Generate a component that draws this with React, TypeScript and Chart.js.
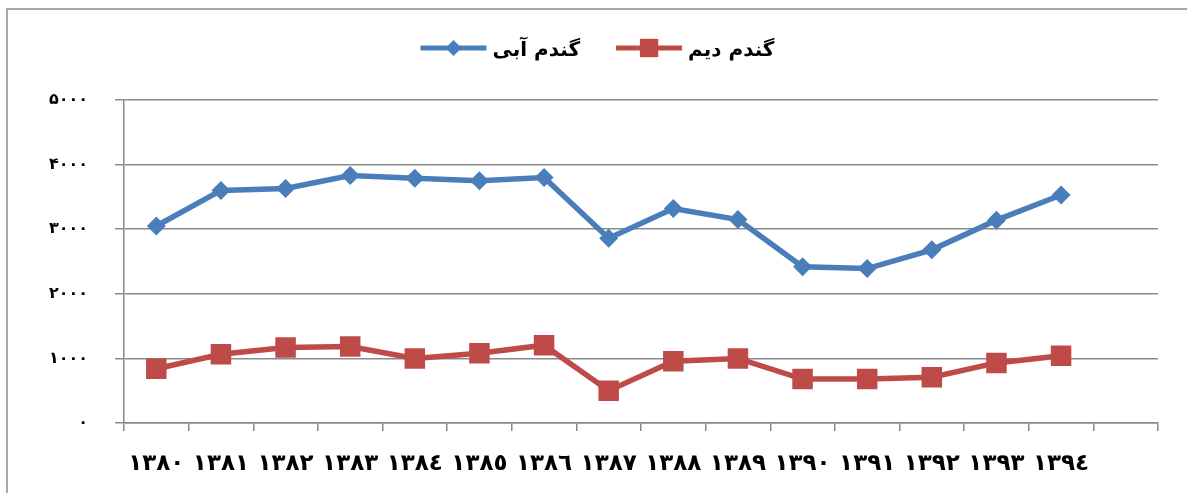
import React, { useEffect, useRef } from 'react';
import { Chart, registerables } from 'chart.js';

Chart.register(...registerables);

const categories = ['١٣٨٠', '١٣٨١', '١٣٨٢', '١٣٨٣', '١٣٨٤', '١٣٨٥', '١٣٨٦', '١٣٨٧', '١٣٨٨', '١٣٨٩', '١٣٩٠', '١٣٩١', '١٣٩٢', '١٣٩٣', '١٣٩٤', ''];
const yTickLabels = ['۰', '۱۰۰۰', '۲۰۰۰', '۳۰۰۰', '۴۰۰۰', '۵۰۰۰'];
const irrigatedLabel = 'گندم آبی';
const rainfedLabel = 'گندم دیم';
const irrigated = [3050, 3600, 3630, 3830, 3790, 3750, 3800, 2860, 3320, 3150, 2420, 2390, 2680, 3140, 3530, null];
const rainfed = [840, 1065, 1170, 1185, 1000, 1080, 1205, 500, 955, 1000, 680, 680, 710, 930, 1040, null];

const BLUE = '#4a7ebb';
const RED = '#be4b48';
const GRID = '#8a8a8a';
const FONT = '"DejaVu Sans", sans-serif';

const legendPlugin = {
  id: 'lineLegend',
  afterDraw(chart: any) {
    const ctx = chart.ctx as CanvasRenderingContext2D;
    ctx.save();
    ctx.font = `bold 20px ${FONT}`;
    const y = 48;
    const lineLen = 66;
    const gap = 6;
    const itemGap = 36;
    const items = chart.data.datasets.map((ds: any) => ({
      label: ds.label as string,
      color: ds.borderColor as string,
      style: ds.pointStyle as string,
      r: ds.pointRadius as number,
    }));
    const widths = items.map((it: any) => lineLen + gap + ctx.measureText(it.label).width);
    const total = widths.reduce((a: number, b: number) => a + b, 0) + itemGap * (items.length - 1);
    let x = chart.width / 2 + 4 - total / 2;
    items.forEach((it: any, i: number) => {
      ctx.strokeStyle = it.color;
      ctx.lineWidth = 5;
      ctx.beginPath();
      ctx.moveTo(x, y);
      ctx.lineTo(x + lineLen, y);
      ctx.stroke();
      const cx = x + lineLen / 2;
      ctx.fillStyle = it.color;
      ctx.beginPath();
      if (it.style === 'rectRot') {
        const r = it.r - 1.5;
        ctx.moveTo(cx, y - r);
        ctx.lineTo(cx + r, y);
        ctx.lineTo(cx, y + r);
        ctx.lineTo(cx - r, y);
        ctx.closePath();
      } else {
        const s = (it.r - 1.5) * Math.SQRT1_2;
        ctx.rect(cx - s, y - s, 2 * s, 2 * s);
      }
      ctx.fill();
      ctx.fillStyle = '#000';
      ctx.textAlign = 'left';
      ctx.textBaseline = 'middle';
      ctx.fillText(it.label, x + lineLen + gap, y + 3);
      x += widths[i] + itemGap;
    });
    ctx.restore();
  },
};

export default function App() {
  const ref = useRef<HTMLCanvasElement | null>(null);

  useEffect(() => {
    if (!ref.current) return;
    const chart = new Chart(ref.current, {
      type: 'line',
      data: {
        labels: categories,
        datasets: [
          {
            label: irrigatedLabel,
            data: irrigated,
            borderColor: BLUE,
            backgroundColor: BLUE,
            borderWidth: 5.5,
            pointStyle: 'rectRot',
            pointRadius: 9.5,
            pointBorderWidth: 0,
            pointBackgroundColor: BLUE,
            tension: 0,
          },
          {
            label: rainfedLabel,
            data: rainfed,
            borderColor: RED,
            backgroundColor: RED,
            borderWidth: 5.5,
            pointStyle: 'rect',
            pointRadius: 14.5,
            pointBorderWidth: 0,
            pointBackgroundColor: RED,
            tension: 0,
          },
        ],
      },
      options: {
        animation: false,
        responsive: false,
        devicePixelRatio: 1,
        layout: { padding: { top: 100, right: 29, bottom: 0, left: 0 } },
        plugins: {
          legend: { display: false },
          tooltip: { enabled: false },
        },
        scales: {
          x: {
            offset: true,
            grid: {
              offset: true,
              drawOnChartArea: false,
              drawTicks: true,
              tickLength: 8,
              color: GRID,
              lineWidth: 1.5,
            },
            border: { color: GRID, width: 1.5 },
            ticks: {
              autoSkip: false,
              maxRotation: 0,
              padding: 19,
              color: '#000',
              font: { family: FONT, size: 23, weight: 'bold' },
            },
            afterFit: (s: any) => {
              s.height = 70;
            },
          },
          y: {
            min: 0,
            max: 5000,
            ticks: {
              stepSize: 1000,
              padding: 27,
              color: '#000',
              font: { family: FONT, size: 16, weight: 'bold' },
              callback: (_v: any, i: number) => yTickLabels[i],
            },
            grid: {
              color: GRID,
              lineWidth: 1.5,
              drawTicks: true,
              tickLength: 9,
            },
            border: { color: GRID, width: 1.5 },
            afterFit: (s: any) => {
              s.width = 124;
            },
          },
        },
      },
      plugins: [legendPlugin],
    });
    return () => chart.destroy();
  }, []);

  return (
    <div style={{ position: 'relative', width: 1187, height: 493, overflow: 'hidden', background: '#fff' }}>
      <style>{'body{margin:0}'}</style>
      <div
        style={{
          position: 'absolute',
          left: 6,
          top: 8,
          width: 1200,
          height: 500,
          borderTop: '2px solid #a8a8a8',
          borderLeft: '2px solid #a8a8a8',
        }}
      />
      <canvas ref={ref} width={1187} height={493} style={{ position: 'absolute', left: 0, top: 0 }} />
    </div>
  );
}
